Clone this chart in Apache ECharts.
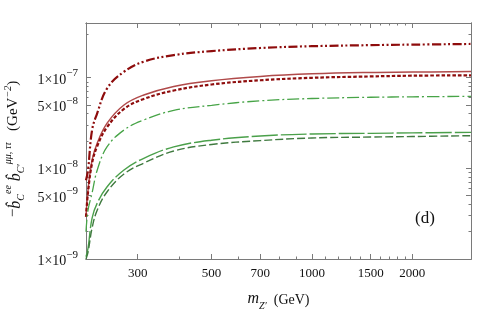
<!DOCTYPE html>
<html><head><meta charset="utf-8">
<script src="https://cdn.jsdelivr.net/npm/echarts@6/dist/echarts.min.js"></script>
<style>html,body{margin:0;padding:0;background:#fff}#c{width:480px;height:312px}</style>
</head><body><div id="c"></div>
<script>
// Z' mass (GeV)
const mass = [210, 213, 219, 227, 243, 273, 313, 385, 500, 700, 1000, 1500, 2000, 3000];
// curves (GeV^-2)
const redDashDotDot = [7.4e-9, 9.6e-9, 2.64e-8, 4.07e-8, 7.62e-8, 1.16e-7, 1.50e-7, 1.77e-7, 1.96e-7, 2.12e-7, 2.22e-7, 2.28e-7, 2.31e-7, 2.35e-7];
const redSolid      = [2.92e-9, 5.77e-9, 1.23e-8, 1.90e-8, 3.15e-8, 4.99e-8, 6.43e-8, 8.0e-8, 9.25e-8, 1.03e-7, 1.10e-7, 1.14e-7, 1.15e-7, 1.17e-7];
const redDotted     = [2.92e-9, 5.48e-9, 1.14e-8, 1.76e-8, 2.85e-8, 4.51e-8, 5.81e-8, 7.2e-8, 8.4e-8, 9.35e-8, 9.95e-8, 1.03e-7, 1.05e-7, 1.06e-7];
const greenDashDot  = [2.0e-9, 3.47e-9, 5.34e-9, 9.58e-9, 1.73e-8, 2.64e-8, 3.41e-8, 4.35e-8, 4.95e-8, 5.55e-8, 5.88e-8, 6.07e-8, 6.14e-8, 6.22e-8];
const greenLongDash = [1.06e-9, 1.32e-9, 2.83e-9, 4.14e-9, 6.27e-9, 9.58e-9, 1.29e-8, 1.72e-8, 2.04e-8, 2.27e-8, 2.39e-8, 2.43e-8, 2.46e-8, 2.49e-8];
const greenDashed   = [1.0e-9, 1.19e-9, 2.20e-9, 3.47e-9, 5.52e-9, 8.65e-9, 1.14e-8, 1.55e-8, 1.83e-8, 2.02e-8, 2.16e-8, 2.21e-8, 2.24e-8, 2.29e-8];
// ticks
const xLabelVals = [300, 500, 700, 1000, 1500, 2000];
const xMinorVals = [400, 600, 800, 900, 1100, 1200, 1300, 1400, 1600, 1700, 1800, 1900];
const yLabelVals = [1e-9, 5e-9, 1e-8, 5e-8, 1e-7];
const yMinorVals = [2e-9, 3e-9, 4e-9, 6e-9, 7e-9, 8e-9, 9e-9, 2e-8, 3e-8, 4e-8, 6e-8, 7e-8, 8e-8, 9e-8, 3e-7];

const serif = '"Liberation Serif", "DejaVu Serif", serif';
const axisColor = '#7a7a7a';
const X_MIN = 210, X_MAX = 3000, Y_MIN = 1e-9, Y_MAX = 4e-7;

function mkAxis(kind, position, tickVals, len, withLabels) {
  const a = {
    type: 'log', logBase: 10, position,
    min: kind === 'x' ? X_MIN : Y_MIN, max: kind === 'x' ? X_MAX : Y_MAX,
    axisLine: {show: true, lineStyle: {color: axisColor, width: 1}},
    axisTick: {show: true, inside: true, length: len, customValues: tickVals, lineStyle: {color: axisColor, width: 1}},
    axisLabel: {show: false},
    splitLine: {show: false}, minorTick: {show: false}, minorSplitLine: {show: false}
  };
  if (withLabels) {
    if (kind === 'x') {
      a.axisLabel = {show: true, customValues: xLabelVals, margin: 8, fontFamily: serif, fontSize: 13, color: '#111',
        formatter: v => String(Math.round(v))};
      a.name = '{m|m}{s|Z′}{n|  (GeV)}';
      a.nameLocation = 'middle';
      a.nameGap = 30;
      a.nameTextStyle = {rich: {
        m: {fontFamily: serif, fontStyle: 'italic', fontSize: 16, color: '#111', verticalAlign: 'bottom', lineHeight: 18},
        s: {fontFamily: serif, fontStyle: 'italic', fontSize: 10, color: '#111', verticalAlign: 'bottom', lineHeight: 18, padding: [0, 0, -4, 0]},
        n: {fontFamily: serif, fontSize: 14, color: '#111', verticalAlign: 'bottom', lineHeight: 18}
      }};
    } else {
      a.axisLabel = {show: true, customValues: yLabelVals, margin: 8, color: '#111',
        formatter: v => {
          const e = Math.floor(Math.log10(v) + 1e-6);
          const m = Math.round(v / Math.pow(10, e));
          return '{m|' + m + '×10}{s|−' + (-e) + '}';
        },
        rich: {
          m: {fontFamily: serif, fontSize: 14, color: '#111', verticalAlign: 'bottom', lineHeight: 19},
          s: {fontFamily: serif, fontSize: 11, color: '#111', verticalAlign: 'top', lineHeight: 19}
        }};
      a.name = '−{i|b̂}{sub|C}{sup|ee}{i| b̂}{sub|C′}{sup|μμ, ττ}   (GeV{sup|−2})';
      a.nameLocation = 'middle';
      a.nameRotate = 90;
      a.nameGap = 58;
      a.nameTextStyle = {fontFamily: serif, fontSize: 15, color: '#111', padding: [0, 16, 0, 0],
        rich: {
          i: {fontFamily: serif, fontStyle: 'italic', fontSize: 16, color: '#111', verticalAlign: 'bottom', lineHeight: 20},
          sub: {fontFamily: serif, fontStyle: 'italic', fontSize: 10, color: '#111', verticalAlign: 'bottom', lineHeight: 20, padding: [0, 0, -3, 0]},
          sup: {fontFamily: serif, fontStyle: 'italic', fontSize: 10, color: '#111', verticalAlign: 'top', lineHeight: 20}
        }};
    }
  }
  return a;
}

const curves = [
  {data: redDashDotDot, color: '#8e0c0c', width: 2.2, type: [9, 2.5, 2, 2.5, 2, 2.5]},
  {data: redSolid, color: '#b04a4a', width: 1.5, type: 'solid'},
  {data: redDotted, color: '#8e0c0c', width: 2.2, type: [3.5, 2]},
  {data: greenDashDot, color: '#47a447', width: 1.3, type: [12, 3, 2, 3]},
  {data: greenLongDash, color: '#4aa04a', width: 1.4, type: [26, 3]},
  {data: greenDashed, color: '#3f7a3f', width: 1.4, type: [8, 3]}
];

const chart = echarts.init(document.getElementById('c'), null, {renderer: 'canvas'});
chart.setOption({
  animation: false,
  backgroundColor: '#fff',
  grid: {left: 86, right: 9, top: 23, bottom: 53, containLabel: false, outerBoundsMode: 'none'},
  xAxis: [
    mkAxis('x', 'bottom', xLabelVals, 5, true),
    mkAxis('x', 'bottom', xMinorVals, 2.5, false),
    mkAxis('x', 'top', xLabelVals, 5, false),
    mkAxis('x', 'top', xMinorVals, 2.5, false)
  ],
  yAxis: [
    mkAxis('y', 'left', yLabelVals, 5, true),
    mkAxis('y', 'left', yMinorVals, 2.5, false),
    mkAxis('y', 'right', yLabelVals, 5, false),
    mkAxis('y', 'right', yMinorVals, 2.5, false)
  ],
  graphic: [{type: 'text', left: 415, top: 210, style: {text: '(d)', font: '17px "Liberation Serif", serif', fill: '#111'}}],
  series: curves.map(c => ({
    type: 'line', xAxisIndex: 0, yAxisIndex: 0,
    data: mass.map((m, i) => [m, c.data[i]]),
    showSymbol: false, smooth: 0.4, clip: true,
    lineStyle: {color: c.color, width: c.width, type: c.type}
  }))
});
</script></body></html>
